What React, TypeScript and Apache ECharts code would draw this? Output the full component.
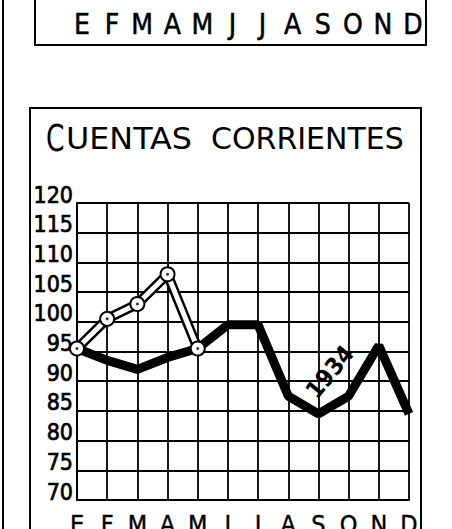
import React, { useEffect, useRef } from "react";
import * as echarts from "echarts";

const months = ["E", "F", "M", "A", "M", "J", "J", "A", "S", "O", "N", "D"];
const topMonths = ["E", "F", "M", "A", "M", "J", "J", "A", "S", "O", "N", "D"];
const values1934 = [95.5, 93.5, 92, 94, 95.5, 99.5, 99.5, 87.5, 84.5, 87.5, 96, 84.5];
const valuesPrev = [95.5, 100.5, 103, 108, 95.5, null, null, null, null, null, null, null];
const yMin = 70;
const yMax = 120;
const yStep = 5;
const titleCap = "C";
const titleWord1 = "UENTAS";
const titleWord2 = "CORRIENTES";
const yearLabel = "1934";

const NARROW = "'DejaVu Sans Condensed', 'Liberation Sans Narrow', sans-serif";
const SANS = "'DejaVu Sans', sans-serif";

export default function App() {
  const ref = useRef<HTMLDivElement>(null);
  useEffect(() => {
    if (!ref.current) return;
    const chart = echarts.init(ref.current, undefined, { renderer: "svg" });
    chart.setOption({
      animation: false,
      backgroundColor: "#fff",
      grid: [
        { left: 77, right: 43, top: 203, bottom: 29, outerBoundsMode: "none", containLabel: false },
        { left: 82, right: 39, top: 0, height: 10, outerBoundsMode: "none", containLabel: false },
      ],
      xAxis: [
        {
          gridIndex: 0,
          type: "category",
          data: months,
          boundaryGap: false,
          axisLine: { show: true, lineStyle: { color: "#000", width: 2 } },
          axisTick: { show: false },
          axisLabel: {
            interval: 0,
            color: "#000",
            fontFamily: NARROW,
            fontSize: 25,
            margin: 12,
            textBorderColor: "#000",
            textBorderWidth: 0.4,
          },
          splitLine: { show: true, lineStyle: { color: "#000", width: 1.8 } },
        },
        {
          gridIndex: 1,
          type: "category",
          data: topMonths,
          boundaryGap: false,
          axisLine: { show: false },
          axisTick: { show: false },
          axisLabel: {
            interval: 0,
            color: "#000",
            fontFamily: NARROW,
            fontSize: 28,
            margin: 0,
            textBorderColor: "#000",
            textBorderWidth: 0.5,
          },
          splitLine: { show: false },
        },
      ],
      yAxis: [
        {
          gridIndex: 0,
          type: "value",
          min: yMin,
          max: yMax,
          interval: yStep,
          axisLine: { show: true, lineStyle: { color: "#000", width: 2 } },
          axisTick: { show: false },
          axisLabel: {
            color: "#000",
            fontFamily: NARROW,
            fontSize: 23,
            margin: 4,
            verticalAlign: "bottom",
            lineHeight: 17,
            textBorderColor: "#000",
            textBorderWidth: 0.7,
          },
          splitLine: { show: true, lineStyle: { color: "#000", width: 1.8 } },
        },
        { gridIndex: 1, type: "value", show: false },
      ],
      series: [
        {
          type: "line",
          data: values1934,
          symbol: "none",
          lineStyle: { color: "#000", width: 9 },
          z: 2,
        },
        {
          type: "line",
          data: valuesPrev,
          symbol: "none",
          lineStyle: { color: "#000", width: 10 },
          z: 3,
        },
        {
          type: "line",
          data: valuesPrev,
          symbol: "circle",
          symbolSize: 14,
          showSymbol: true,
          itemStyle: { color: "#fff", borderColor: "#000", borderWidth: 2 },
          lineStyle: { color: "#fff", width: 5 },
          z: 4,
        },
        {
          type: "scatter",
          data: valuesPrev,
          symbolSize: 3,
          itemStyle: { color: "#000" },
          z: 5,
        },
      ],
      graphic: [
        { type: "line", shape: { x1: 3, y1: 0, x2: 3, y2: 529 }, style: { stroke: "#000", lineWidth: 2 } },
        {
          type: "rect",
          shape: { x: 35, y: -10, width: 391, height: 55 },
          style: { fill: "none", stroke: "#000", lineWidth: 2 },
        },
        {
          type: "rect",
          shape: { x: 30, y: 108, width: 391, height: 440 },
          style: { fill: "none", stroke: "#000", lineWidth: 2 },
        },
        {
          type: "text",
          x: 46,
          y: 138,
          scaleX: 0.7,
          style: { text: titleCap, font: `38px ${SANS}`, fill: "#000", align: "left", verticalAlign: "middle" },
        },
        {
          type: "text",
          x: 66,
          y: 138,
          scaleX: 1.06,
          style: { text: titleWord1, font: `30px ${SANS}`, fill: "#000", align: "left", verticalAlign: "middle" },
        },
        {
          type: "text",
          x: 211,
          y: 138,
          style: { text: titleWord2, font: `30px ${SANS}`, fill: "#000", align: "left", verticalAlign: "middle" },
        },
        {
          type: "text",
          x: 330,
          y: 372,
          rotation: 0.88,
          style: { text: yearLabel, font: `bold 24px ${NARROW}`, fill: "#000", align: "center", verticalAlign: "middle" },
        },
      ],
    });
    return () => chart.dispose();
  }, []);
  return (
    <div
      ref={ref}
      style={{ position: "fixed", left: 0, top: 0, width: 452, height: 529, background: "#fff" }}
    />
  );
}
